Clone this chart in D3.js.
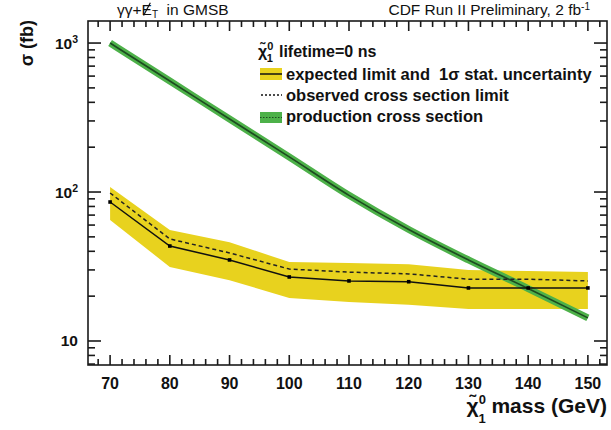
<!DOCTYPE html>
<html>
<head>
<meta charset="utf-8">
<script src="https://cdn.jsdelivr.net/npm/d3@7"></script>
<style>
  body { margin: 0; background: #fff; }
  svg { font-family: "Liberation Sans", Arial, sans-serif; }
  .lab { font-weight: bold; fill: #111; white-space: pre; }
</style>
</head>
<body>
<svg id="chart" width="611" height="430"></svg>
<script>
// neutralino mass points (GeV)
var masses = [70, 80, 90, 100, 110, 120, 130, 140, 150];
var expected = [85.7, 43.4, 35, 26.9, 25.3, 25.0, 22.7, 22.7, 22.7];
var observed = [98.5, 48.4, 39, 30.4, 29, 28.2, 26, 26, 25.3];
var bandUp = [108, 55.6, 46, 33.9, 33.4, 32.8, 30, 29.5, 29];
var bandLo = [64.9, 31.4, 25.6, 19.4, 18.3, 17.5, 16.4, 16.4, 16.4];
var production = [1000, 556, 309, 172, 95, 56, 35, 22.5, 14.3];
var xMajor = [70, 80, 90, 100, 110, 120, 130, 140, 150];
var yMajor = [10, 100, 1000];
var yLabels = [["10", ""], ["10", "2"], ["10", "3"]];

var svg = d3.select('#chart');
var L = 88, R = 607, T = 21, B = 365;

var x = d3.scaleLinear().domain([66.3, 153.2]).range([L, R]);
var y = d3.scaleLog().domain([6.9, 1406]).range([B, T]);

var xMinor = d3.range(68, 153.2, 2).filter(function(v) { return v % 10 != 0; });
var yMinor = [];
[1, 10, 100].forEach(function(d) {
  for (var k = 2; k <= 9; k++) {
    var v = d * k;
    if (v > 6.9 && v < 1406) yMinor.push(v);
  }
});

svg.append('clipPath').attr('id', 'clip').append('rect')
  .attr('x', L).attr('y', T).attr('width', R - L).attr('height', B - T);

var plot = svg.append('g').attr('clip-path', 'url(#clip)');

var pts = masses.map(function(m, i) {
  return { m: m, e: expected[i], o: observed[i], u: bandUp[i], l: bandLo[i], p: production[i] };
});

// yellow 1 sigma band
plot.append('path').datum(pts)
  .attr('d', d3.area().x(function(d) { return x(d.m); })
    .y0(function(d) { return y(d.l); }).y1(function(d) { return y(d.u); }))
  .attr('fill', '#e8d21e');

// production cross section
var prodLine = d3.line().x(function(d) { return x(d.m); }).y(function(d) { return y(d.p); })
  .curve(d3.curveMonotoneX);
plot.append('path').datum(pts).attr('d', prodLine)
  .attr('fill', 'none').attr('stroke', '#4db149').attr('stroke-width', 7);
plot.append('path').datum(pts).attr('d', prodLine)
  .attr('fill', 'none').attr('stroke', '#1d4a20').attr('stroke-width', 1.6);

// observed
plot.append('path').datum(pts)
  .attr('d', d3.line().x(function(d) { return x(d.m); }).y(function(d) { return y(d.o); }))
  .attr('fill', 'none').attr('stroke', '#222').attr('stroke-width', 1.5)
  .attr('stroke-dasharray', '4,3');

// expected
plot.append('path').datum(pts)
  .attr('d', d3.line().x(function(d) { return x(d.m); }).y(function(d) { return y(d.e); }))
  .attr('fill', 'none').attr('stroke', '#111').attr('stroke-width', 1.5);
plot.selectAll('rect.pt').data(pts).enter().append('rect')
  .attr('x', function(d) { return x(d.m) - 1.8; })
  .attr('y', function(d) { return y(d.e) - 1.8; })
  .attr('width', 3.6).attr('height', 3.6).attr('fill', '#000');

// frame and ticks
var axes = svg.append('g').attr('stroke', '#1a1a1a').attr('stroke-width', 1.6);
axes.append('rect').attr('x', L).attr('y', T).attr('width', R - L).attr('height', B - T)
  .attr('fill', 'none');

function xTicks(vals, len) {
  vals.forEach(function(v) {
    axes.append('line').attr('x1', x(v)).attr('x2', x(v)).attr('y1', B).attr('y2', B - len);
    axes.append('line').attr('x1', x(v)).attr('x2', x(v)).attr('y1', T).attr('y2', T + len);
  });
}
function yTicks(vals, len) {
  vals.forEach(function(v) {
    axes.append('line').attr('y1', y(v)).attr('y2', y(v)).attr('x1', L).attr('x2', L + len);
    axes.append('line').attr('y1', y(v)).attr('y2', y(v)).attr('x1', R).attr('x2', R - len);
  });
}
xTicks(xMajor, 10);
xTicks(xMinor, 6);
yTicks(yMajor, 13);
yTicks(yMinor, 7);

// tick labels
svg.selectAll('text.xl').data(xMajor).enter().append('text')
  .attr('class', 'lab').attr('x', function(d) { return x(d); }).attr('y', 389)
  .attr('text-anchor', 'middle').style('font-size', '16px').text(function(d) { return d; });

yMajor.forEach(function(v, i) {
  var t = svg.append('text').attr('class', 'lab').attr('x', 78).attr('y', y(v) + 5.5)
    .attr('text-anchor', 'end').style('font-size', '15.5px');
  t.append('tspan').text(yLabels[i][0]);
  if (yLabels[i][1]) {
    t.append('tspan').attr('dy', -6).style('font-size', '10.5px').text(yLabels[i][1]);
  }
});

// axis titles
svg.append('text').attr('class', 'lab')
  .attr('transform', 'translate(33,20) rotate(-90)')
  .attr('text-anchor', 'end').style('font-size', '18px').text('σ (fb)');

var xt = svg.append('text').attr('class', 'lab').attr('x', 607).attr('y', 413)
  .attr('text-anchor', 'end').style('font-size', '21px');
xt.append('tspan').text('χ̃');
xt.append('tspan').attr('dy', -9).style('font-size', '13px').text('0');
xt.append('tspan').attr('dx', -7.5).attr('dy', 19).style('font-size', '13px').text('1');
xt.append('tspan').attr('dy', -10).text(' mass (GeV)');

// top labels
var tl = svg.append('text').attr('x', 117).attr('y', 15).style('font-size', '15.5px').attr('fill', '#111')
  .style('white-space', 'pre');
tl.append('tspan').text('γγ+E');
tl.append('tspan').attr('dy', 3).style('font-size', '10px').text('T');
tl.append('tspan').attr('dy', -3).text('  in GMSB');
// slash through the E (missing transverse energy)
var eBox = tl.node().getExtentOfChar(3);
svg.append('line')
  .attr('x1', eBox.x + eBox.width * 0.2).attr('y1', eBox.y + eBox.height * 0.85)
  .attr('x2', eBox.x + eBox.width * 0.85).attr('y2', eBox.y + eBox.height * 0.1)
  .attr('stroke', '#111').attr('stroke-width', 1.2);

var tr = svg.append('text').attr('x', 590).attr('y', 15).attr('text-anchor', 'end')
  .style('font-size', '15.5px').attr('fill', '#111');
tr.append('tspan').text('CDF Run II Preliminary, 2 fb');
tr.append('tspan').attr('dy', -5.5).style('font-size', '10px').text('-1');

// legend
var lg = svg.append('g');
var lt = lg.append('text').attr('class', 'lab').attr('x', 258).attr('y', 57).style('font-size', '16px');
lt.append('tspan').text('χ̃');
lt.append('tspan').attr('dy', -7).style('font-size', '11px').text('0');
lt.append('tspan').attr('dx', -6.5).attr('dy', 12).style('font-size', '11px').text('1');
lt.append('tspan').attr('dx', 6).attr('dy', -5).text('lifetime=0 ns');

lg.append('rect').attr('x', 260).attr('y', 68).attr('width', 22).attr('height', 12).attr('fill', '#e8d21e');
lg.append('line').attr('x1', 260).attr('x2', 282).attr('y1', 74).attr('y2', 74)
  .attr('stroke', '#111').attr('stroke-width', 1.5);
lg.append('text').attr('class', 'lab').attr('x', 286).attr('y', 80).style('font-size', '16.5px')
  .text('expected limit and  1σ stat. uncertainty');

lg.append('line').attr('x1', 261).attr('x2', 282).attr('y1', 95).attr('y2', 95)
  .attr('stroke', '#111').attr('stroke-width', 1.3).attr('stroke-dasharray', '2,2');
lg.append('text').attr('class', 'lab').attr('x', 286).attr('y', 101).style('font-size', '16.5px')
  .text('observed cross section limit');

lg.append('rect').attr('x', 260).attr('y', 112).attr('width', 22).attr('height', 11).attr('fill', '#4db149');
lg.append('line').attr('x1', 260).attr('x2', 282).attr('y1', 117.5).attr('y2', 117.5)
  .attr('stroke', '#1d4a20').attr('stroke-width', 1).attr('stroke-dasharray', '1.5,1.5');
lg.append('text').attr('class', 'lab').attr('x', 286).attr('y', 122).style('font-size', '16.5px')
  .text('production cross section');
</script>
</body>
</html>
